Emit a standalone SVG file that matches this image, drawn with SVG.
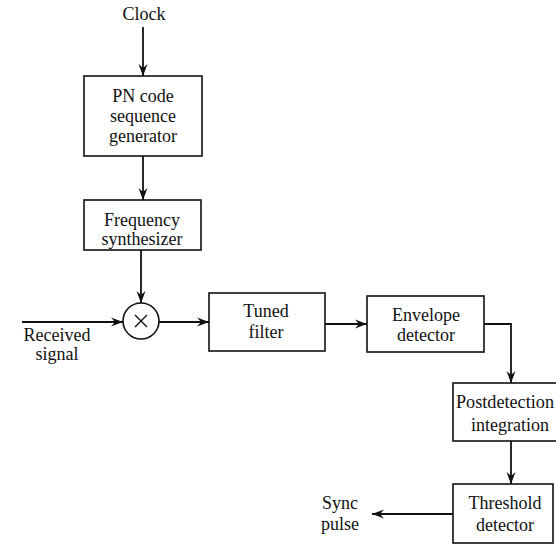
<svg xmlns="http://www.w3.org/2000/svg" width="556" height="545" viewBox="0 0 556 545">
  <style>
    .box { fill: #fff; stroke: #111; stroke-width: 1.6; }
    .wire { fill: none; stroke: #111; stroke-width: 1.8; }
    text { font-family: "Liberation Serif", "DejaVu Serif", serif; font-size: 18px; fill: #111; text-anchor: middle; }
  </style>
  <defs>
    <marker id="arrow" viewBox="0 0 12 10" refX="12" refY="5" markerWidth="12" markerHeight="10" markerUnits="userSpaceOnUse" orient="auto">
      <path d="M0,0.5 L12,5 L0,9.5 L4,5 z" fill="#111"/>
    </marker>
  </defs>
  <rect width="556" height="545" fill="#fff"/>

  <g id="connectors">
    <line class="wire" x1="143" y1="27" x2="143" y2="76" marker-end="url(#arrow)"/>
    <line class="wire" x1="143" y1="156" x2="143" y2="200" marker-end="url(#arrow)"/>
    <line class="wire" x1="141" y1="250" x2="141" y2="303" marker-end="url(#arrow)"/>
    <line class="wire" x1="22" y1="322" x2="123" y2="322" marker-end="url(#arrow)"/>
    <line class="wire" x1="159" y1="322" x2="209" y2="322" marker-end="url(#arrow)"/>
    <line class="wire" x1="325" y1="324" x2="367" y2="324" marker-end="url(#arrow)"/>
    <polyline class="wire" points="484,324 511,324 511,383" marker-end="url(#arrow)"/>
    <line class="wire" x1="511" y1="441" x2="511" y2="484" marker-end="url(#arrow)"/>
    <line class="wire" x1="453" y1="514" x2="372" y2="514" marker-end="url(#arrow)"/>
  </g>

  <g id="clock">
    <text x="144" y="20">Clock</text>
  </g>

  <g id="pn-generator">
    <rect class="box" x="84" y="76" width="118" height="80"/>
    <text x="143" y="102">PN code</text>
    <text x="143" y="122">sequence</text>
    <text x="143" y="142">generator</text>
  </g>

  <g id="synthesizer">
    <rect class="box" x="84" y="200" width="117" height="50"/>
    <text x="142" y="226">Frequency</text>
    <text x="142" y="245">synthesizer</text>
  </g>

  <g id="mixer">
    <circle class="box" cx="141" cy="321" r="18"/>
    <path d="M135,315 L147,327 M147,315 L135,327" stroke="#111" stroke-width="1.4" fill="none"/>
  </g>

  <g id="received-signal">
    <text x="57" y="341">Received</text>
    <text x="57" y="360">signal</text>
  </g>

  <g id="tuned-filter">
    <rect class="box" x="209" y="293" width="116" height="58"/>
    <text x="266" y="317">Tuned</text>
    <text x="266" y="338">filter</text>
  </g>

  <g id="envelope-detector">
    <rect class="box" x="367" y="296" width="117" height="56"/>
    <text x="426" y="321">Envelope</text>
    <text x="426" y="341">detector</text>
  </g>

  <g id="postdetection">
    <rect class="box" x="453" y="383" width="110" height="58"/>
    <text x="505" y="408" textLength="98" lengthAdjust="spacingAndGlyphs">Postdetection</text>
    <text x="510" y="431">integration</text>
  </g>

  <g id="threshold-detector">
    <rect class="box" x="453" y="484" width="100" height="59"/>
    <text x="505" y="509">Threshold</text>
    <text x="505" y="531">detector</text>
  </g>

  <g id="sync-pulse">
    <text x="340" y="509">Sync</text>
    <text x="340" y="530">pulse</text>
  </g>
</svg>
